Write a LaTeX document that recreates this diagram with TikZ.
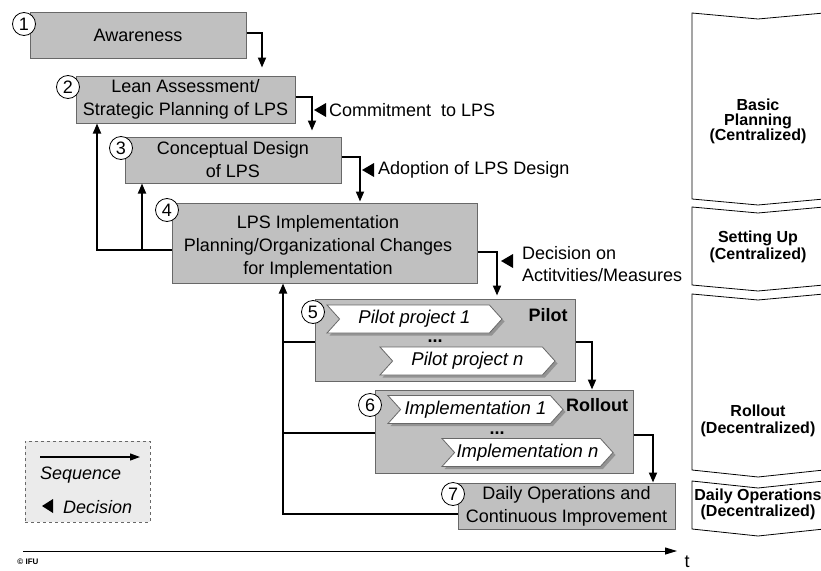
\documentclass[tikz,border=0pt]{standalone}
\usepackage{fontspec}
\setmainfont{Liberation Sans}
\usetikzlibrary{arrows.meta,shapes.symbols,shadows,calc}
\definecolor{boxfill}{HTML}{C0C0C0}
\definecolor{boxline}{HTML}{686868}
\definecolor{legfill}{HTML}{EBEBEB}
\begin{document}
\begin{tikzpicture}[x=1pt,y=-1pt,
  font=\fontsize{18}{23}\selectfont,
  stage/.style={draw=boxline, fill=boxfill, line width=1pt, inner sep=0pt, align=center},
  num/.style={circle, draw=black, fill=white, line width=0.8pt, minimum size=23pt, inner sep=0pt, font=\fontsize{18}{18}\selectfont},
  seq/.style={line width=1.8pt, -{Triangle[width=8pt,length=10pt]}},
  fb/.style={line width=1.8pt},
  chev/.style={signal, signal to=east, signal from=west, signal pointer angle=96, draw=boxline, fill=white, line width=0.8pt, minimum width=175pt, minimum height=28pt, inner sep=0pt, font=\fontsize{18.5}{18.5}\selectfont\itshape, general shadow={shadow xshift=2.5pt, shadow yshift=-2.5pt, fill=gray!85, draw=none}},
  phase/.style={draw=black, line width=0.8pt, fill=white},
  phtext/.style={font=\fontsize{16}{16}\bfseries, align=center, inner sep=0pt},
  lbl/.style={anchor=west, inner sep=0pt, align=left},
  dots/.style={font=\fontsize{18}{18}\bfseries, inner sep=0pt, anchor=base},
  dec/.style={fill=black}
]
\useasboundingbox (0,0) rectangle (821,570);

% phases
\draw[phase] (692,13) -- (758,19) -- (824,13) -- (824,199) -- (758,205) -- (692,199) -- cycle;
\draw[phase] (692,207) -- (758,213) -- (824,207) -- (824,285) -- (758,291) -- (692,285) -- cycle;
\draw[phase] (692,294) -- (758,300) -- (824,294) -- (824,470) -- (758,477) -- (692,470) -- cycle;
\draw[phase] (692,481) -- (758,488) -- (824,481) -- (824,529) -- (758,536) -- (692,529) -- cycle;
\node[phtext, font=\fontsize{16}{15}\bfseries] (p1) at (758,121) {Basic\\Planning\\(Centralized)};
\node[phtext, font=\fontsize{16}{17}\bfseries] (p2) at (758,247) {Setting Up\\(Centralized)};
\node[phtext, font=\fontsize{16}{17}\bfseries] (p3) at (758,421) {Rollout\\(Decentralized)};
\node[phtext, font=\fontsize{16}{16}\bfseries] (p4) at (758,504) {Daily Operations\\(Decentralized)};

% stage boxes
\node[stage, minimum width=216pt, minimum height=46pt] (b1) at (138,35) {Awareness};
\node[stage, minimum width=219pt, minimum height=47pt] (b2) at (185.5,99.5) {Lean Assessment/\\Strategic Planning of LPS};
\node[stage, minimum width=216pt, minimum height=46pt] (b3) at (233,160) {Conceptual Design\\of LPS};
\node[stage, minimum width=305pt, minimum height=80pt] (b4) at (324.5,243) {};
\node[align=center, inner sep=0pt] (b4t) at (318,247) {LPS Implementation\\Planning/Organizational Changes\\for Implementation};
\node[stage, minimum width=260pt, minimum height=82pt] (b5) at (445,340) {};
\node[stage, minimum width=258pt, minimum height=83pt] (b6) at (504,431.5) {};
\node[stage, minimum width=217pt, minimum height=46pt] (b7) at (566.5,506) {Daily Operations and\\Continuous Improvement};

% chevrons
\node[chev] (c1) at (414.5,319) {Pilot project 1};
\node[chev] (c2) at (467.5,361) {Pilot project n};
\node[chev] (c3) at (475.5,409.5) {Implementation 1};
\node[chev, minimum width=171pt] (c4) at (527.5,452.5) {Implementation n};
\node[dots] (d1) at (435,342) {...};
\node[dots] (d2) at (497,434) {...};
\node[font=\fontsize{18}{18}\bfseries] (pl) at (548,315) {Pilot};
\node[font=\fontsize{18}{18}\bfseries] (rl) at (597,405) {Rollout};

% numbers
\node[num] (n1) at (24,24) {1};
\node[num] (n2) at (68,87) {2};
\node[num] (n3) at (121,148) {3};
\node[num] (n4) at (167,210) {4};
\node[num] (n5) at (313,312) {5};
\node[num] (n6) at (370,405) {6};
\node[num] (n7) at (453,494) {7};

% helper coordinates
\coordinate (xa) at (262,0);
\coordinate (xb) at (312,0);
\coordinate (xc) at (360,0);
\coordinate (xd) at (497,0);
\coordinate (xe) at (592,0);
\coordinate (xf) at (653,0);
\coordinate (ya) at (0,33);
\coordinate (yb) at (0,97);
\coordinate (yc) at (0,157);
\coordinate (yd) at (0,252);
\coordinate (ye) at (0,342);
\coordinate (yf) at (0,435);
\coordinate (xl1) at (97,0);
\coordinate (xl2) at (142,0);
\coordinate (xl3) at (283,0);
\coordinate (yg) at (0,250);
\coordinate (yh) at (0,514);
\coordinate (yi) at (0,433);
\coordinate (yj) at (0,342);

% sequence arrows
\draw[seq, shorten >=8pt] (b1.east |- ya) -| (b2.north -| xa);
\draw[seq, shorten >=6pt] (b2.east |- yb) -| (b3.north -| xb);
\draw[seq, shorten >=1pt] (b3.east |- yc) -| (b4.north -| xc);
\draw[seq, shorten >=3pt] (b4.east |- yd) -| (b5.north -| xd);
\draw[seq] (b5.east |- ye) -| (b6.north -| xe);
\draw[seq] (b6.east |- yf) -| (b7.north -| xf);

% feedback arrows
\draw[seq] (b4.west |- yg) -| (b2.south -| xl1);
\draw[seq] (xl2 |- yg) -- (b3.south -| xl2);
\draw[seq] (b7.west |- yh) -| (b4.south -| xl3);
\draw[fb] (b6.west |- yi) -- (xl3 |- yi);
\draw[fb] (b5.west |- yj) -- (xl3 |- yj);

% decisions
\fill[dec] (314,110) -- (326,103) -- (326,117) -- cycle;
\node[lbl] (t1) at (329,110) {Commitment\ \ to LPS};
\fill[dec] (362,170) -- (374,163) -- (374,177) -- cycle;
\node[lbl] (t2) at (378,170) {Adoption of LPS Design};
\fill[dec] (501,261) -- (513,254) -- (513,268) -- cycle;
\node[lbl, font=\fontsize{18}{22}\selectfont] (t3) at (522,264) {Decision on\\Actitvities/Measures};

% legend
\node[draw=boxline, dashed, fill=legfill, line width=0.8pt, minimum width=125pt, minimum height=81pt] (leg) at (87.5,481.5) {};
\coordinate (l1) at (40,457);
\coordinate (l2) at (140,457);
\draw[line width=1.2pt, -{Triangle[width=7pt,length=10pt]}] (l1) -- (l2);
\node[lbl, font=\fontsize{18}{18}\selectfont\itshape] (lseq) at (40,475) {Sequence};
\fill[dec] (42,506) -- (53,499) -- (53,513) -- cycle;
\node[lbl, font=\fontsize{18}{18}\selectfont\itshape] (ldec) at (63,507) {Decision};

% time axis
\coordinate (ta) at (23,551);
\coordinate (tb) at (677,551);
\draw[line width=1pt, -{Triangle[width=7pt,length=12pt]}] (ta) -- (tb);
\node (tt) at (687,562) {t};
\node[font=\fontsize{8}{8}\bfseries, inner sep=0pt] (ifu) at (28,562) {\textcopyright\ IFU};
\end{tikzpicture}
\end{document}
